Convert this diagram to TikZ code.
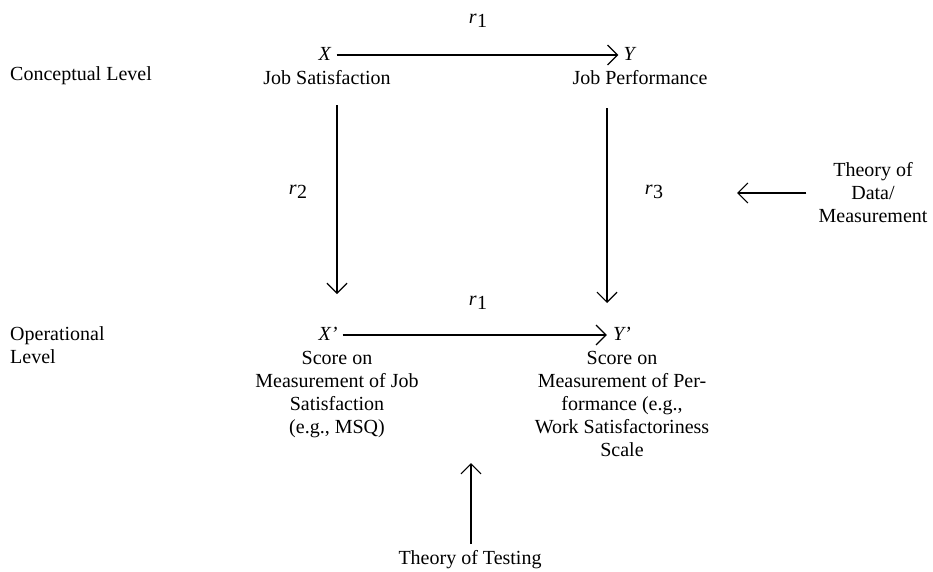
\documentclass[tikz,border=0pt]{standalone}
\usepackage{fontspec}
\setmainfont{Liberation Serif}
\usetikzlibrary{arrows.meta}
\newcommand{\rsub}[1]{\textit{r}\kern0.5pt\raisebox{-0.45ex}{#1}}
\tikzset{
  lbl/.style={inner sep=0pt, font=\fontsize{20}{23}\selectfont, align=center},
  lft/.style={inner sep=0pt, font=\fontsize{20}{23}\selectfont, align=left, anchor=west},
  arr/.style={line width=1.2pt, -{Straight Barb[length=10pt,width=20pt,line width=1.2pt]}},
}
\begin{document}
\begin{tikzpicture}[x=1pt,y=-1pt]
\useasboundingbox (0,0) rectangle (933,571);
% top level
\node[lbl] (r1t) at (478,21) {\rsub{1}};
\node[lbl] (X) at (325,54) {\textit{X}};
\node[lbl] (Y) at (630,54) {\textit{Y}};
\node[lbl] (js) at (327,78) {Job Satisfaction};
\node[lbl] (jp) at (640,78) {Job Performance};
\node[lft] (cl) at (10,76) {Conceptual Level};
% middle
\node[lbl] (r2) at (298,192) {\rsub{2}};
\node[lbl] (r3) at (654,192) {\rsub{3}};
\node[lbl] (tdm) at (873,193) {Theory of\\Data/\\Measurement};
% bottom level
\node[lft] (ol) at (10,345) {Operational\\Level};
\node[lbl] (r1b) at (478,303) {\rsub{1}};
\node[lbl] (Xp) at (328,334) {\textit{X'}};
\node[lbl] (Yp) at (622,334) {\textit{Y'}};
\node[lbl, anchor=north] (sl) at (337,351) {Score on\\Measurement of Job\\Satisfaction\\(e.g., MSQ)};
\node[lbl, anchor=north] (sr) at (622,351) {Score on\\Measurement of Per-\\formance (e.g.,\\Work Satisfactoriness\\Scale};
\node[lbl] (tt) at (470,560) {Theory of Testing};
% connectors
\coordinate (a1s) at (337,105);
\coordinate (a1e) at (337,294);
\coordinate (a2s) at (607,108);
\coordinate (a2e) at (607,303);
\coordinate (a3e) at (737,193);
\coordinate (a4s) at (471,544);
\coordinate (a4e) at (471,463);
\draw[arr] (X.east) ++(5,1) -- ([xshift=-5pt,yshift=-1pt]Y.west);
\draw[arr] (Xp.east) ++(5,1) -- ([xshift=-6pt,yshift=-1pt]Yp.west);
\draw[arr] (a1s) -- (a1e);
\draw[arr] (a2s) -- (a2e);
\draw[arr] ([xshift=-12pt]tdm.west |- a3e) -- (a3e);
\draw[arr] (a4s) -- (a4e);
\end{tikzpicture}
\end{document}
